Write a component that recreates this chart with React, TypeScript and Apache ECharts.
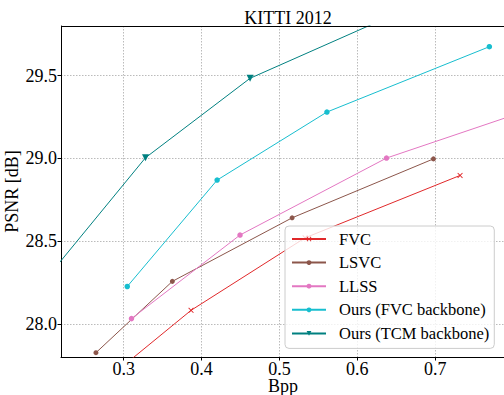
import React, { useEffect, useRef } from "react";
import * as echarts from "echarts";

const fvcBpp = [0.29, 0.3865, 0.533, 0.732];
const fvcPsnr = [27.71, 28.082, 28.52, 28.897];
const lsvcBpp = [0.2644, 0.3625, 0.5163, 0.6978];
const lsvcPsnr = [27.826, 28.257, 28.641, 28.997];
const llssBpp = [0.31, 0.4494, 0.6375, 0.85];
const llssPsnr = [28.032, 28.537, 29.002, 29.34];
const oursFvcBpp = [0.3046, 0.42, 0.561, 0.7696];
const oursFvcPsnr = [28.226, 28.869, 29.28, 29.675];
const oursTcmBpp = [0.2, 0.328, 0.4623, 0.65];
const oursTcmPsnr = [28.27, 29.004, 29.484, 29.875];

const xTicks = [0.3, 0.4, 0.5, 0.6, 0.7];
const yTicks = [28.0, 28.5, 29.0, 29.5];

const FONT = "Liberation Serif";
const X_SHAPE =
  "path://M0,1.2 L1.2,0 L5,3.8 L8.8,0 L10,1.2 L6.2,5 L10,8.8 L8.8,10 L5,6.2 L1.2,10 L0,8.8 L3.8,5 Z";

function pairs(xs: number[], ys: number[]) {
  return xs.map((x, i) => [x, ys[i]]);
}

export default function App() {
  const ref = useRef<HTMLDivElement>(null);
  useEffect(() => {
    if (!ref.current) return;
    document.body.style.margin = "0";
    const chart = echarts.init(ref.current, undefined, { renderer: "svg" });
    const mk = (
      name: string,
      xs: number[],
      ys: number[],
      color: string,
      symbol: string,
      size: number,
      rotate = 0
    ) => ({
      name,
      type: "line",
      data: pairs(xs, ys),
      symbol,
      symbolSize: size,
      symbolRotate: rotate,
      showSymbol: true,
      lineStyle: { color, width: 1 },
      itemStyle: { color, borderWidth: 0 },
      clip: true,
      z: 3,
    });
    chart.setOption({
      animation: false,
      backgroundColor: "#ffffff",
      textStyle: { fontFamily: FONT },
      title: {
        text: "KITTI 2012",
        left: 283,
        top: 4,
        textAlign: "center",
        textStyle: {
          fontFamily: FONT,
          fontSize: 18,
          fontWeight: "normal",
          color: "#000",
        },
      },
      grid: {
        left: 61,
        top: 26,
        right: -1,
        bottom: 38,
        containLabel: false,
        outerBoundsMode: "none",
      },
      xAxis: {
        type: "value",
        min: 0.2195,
        max: 0.7897,
        name: "Bpp",
        nameLocation: "middle",
        nameGap: 20,
        nameMoveOverlap: false,
        nameTextStyle: { fontFamily: FONT, fontSize: 18, color: "#000" },
        axisLine: { show: true, onZero: false, lineStyle: { color: "#000", width: 1 } },
        axisTick: {
          show: true,
          length: 3.5,
          customValues: xTicks,
          lineStyle: { color: "#000" },
        },
        axisLabel: {
          customValues: xTicks,
          margin: 3,
          fontFamily: FONT,
          fontSize: 18,
          color: "#000",
          formatter: (v: number) => v.toFixed(1),
        },
        splitLine: {
          show: true,
          lineStyle: { color: "#aaa", type: [1.5, 1.5], width: 0.8 },
        },
      },
      yAxis: {
        type: "value",
        min: 27.8,
        max: 29.8,
        name: "PSNR [dB]",
        nameLocation: "middle",
        nameGap: 40,
        nameMoveOverlap: false,
        nameTextStyle: { fontFamily: FONT, fontSize: 18, color: "#000" },
        axisLine: { show: true, onZero: false, lineStyle: { color: "#000", width: 1 } },
        axisTick: {
          show: true,
          length: 3.5,
          customValues: yTicks,
          lineStyle: { color: "#000" },
        },
        axisLabel: {
          customValues: yTicks,
          margin: 4,
          fontFamily: FONT,
          fontSize: 18,
          color: "#000",
          formatter: (v: number) => v.toFixed(1),
        },
        splitLine: {
          show: true,
          lineStyle: { color: "#aaa", type: [1.5, 1.5], width: 0.8 },
        },
      },
      graphic: [
        {
          type: "line",
          shape: { x1: 61, y1: 26.5, x2: 504, y2: 26.5 },
          style: { stroke: "#000", lineWidth: 1 },
          z: 10,
        },
      ],
      legend: {
        orient: "vertical",
        left: 285,
        top: 226,
        padding: [3, 5, 5, 6],
        itemWidth: 34,
        itemHeight: 6,
        itemGap: 3.6,
        backgroundColor: "rgba(255,255,255,0.8)",
        borderColor: "#cccccc",
        borderWidth: 1,
        borderRadius: 4,
        textStyle: {
          fontFamily: FONT,
          fontSize: 16.5,
          color: "#000",
          lineHeight: 20,
          padding: [0, 0, 0, 8],
        },
        data: [
          "FVC",
          "LSVC",
          "LLSS",
          "Ours (FVC backbone)",
          "Ours (TCM backbone)",
        ],
      },
      series: [
        mk("FVC", fvcBpp, fvcPsnr, "#e0282a", X_SHAPE, 5.5),
        mk("LSVC", lsvcBpp, lsvcPsnr, "#8c564b", "circle", 5),
        mk("LLSS", llssBpp, llssPsnr, "#e377c2", "circle", 5.5),
        mk("Ours (FVC backbone)", oursFvcBpp, oursFvcPsnr, "#17becf", "circle", 5.5),
        mk("Ours (TCM backbone)", oursTcmBpp, oursTcmPsnr, "#008080", "triangle", 7, 180),
      ],
    });
    return () => chart.dispose();
  }, []);
  return (
    <div
      ref={ref}
      style={{ position: "absolute", left: 0, top: 0, width: 504, height: 395 }}
    />
  );
}
